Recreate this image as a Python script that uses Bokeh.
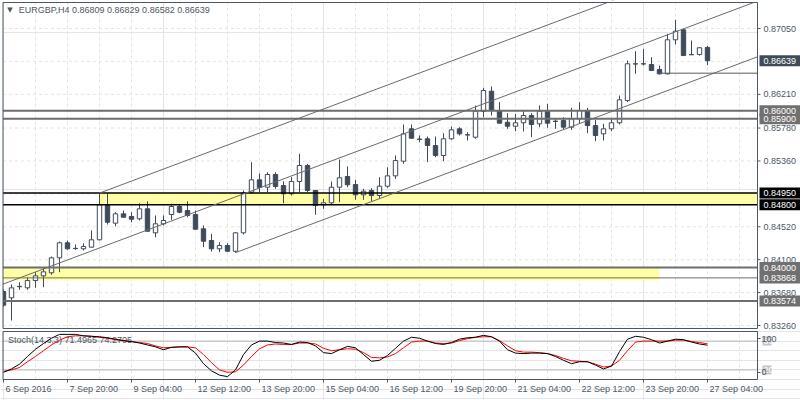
from bokeh.plotting import figure
from bokeh.layouts import column
from bokeh.models import Range1d, ColumnDataSource
from bokeh.core.properties import value
from bokeh.embed import file_html
from bokeh.resources import INLINE

# ---------------- data ----------------
title_text = "EURGBP,H4  0.86809 0.86829 0.86582 0.86639"
stoch_title = "Stoch(14,3,3) 71.4965 74.2705"

opens = [0.83694, 0.83614, 0.83755, 0.83741, 0.83834, 0.83894, 0.83933, 0.84124, 0.84316, 0.84245,
         0.84239, 0.84260, 0.84354, 0.84800, 0.84566, 0.84685, 0.84651, 0.84622, 0.84749, 0.84443,
         0.84558, 0.84677, 0.84779, 0.84728, 0.84677, 0.84494, 0.84345, 0.84239, 0.84281, 0.84208,
         0.84443, 0.84962, 0.85119, 0.85025, 0.85187, 0.85047, 0.84941, 0.85098, 0.85302, 0.84983,
         0.84800, 0.84826, 0.85025, 0.85162, 0.85059, 0.84928, 0.84983, 0.84919, 0.85038, 0.85170,
         0.85357, 0.85770, 0.85640, 0.85643, 0.85557, 0.85430, 0.85643, 0.85770, 0.85694, 0.85663,
         0.85991, 0.86250, 0.86004, 0.85854, 0.85803, 0.85847, 0.85940, 0.85834, 0.85995, 0.85867,
         0.85876, 0.85791, 0.85898, 0.86004, 0.85812, 0.85706, 0.85770, 0.85847, 0.86131, 0.86597,
         0.86600, 0.86591, 0.86527, 0.86472, 0.86906, 0.87033, 0.86715, 0.86718, 0.86809]
highs = [0.83720, 0.83784, 0.83812, 0.83876, 0.83940, 0.83996, 0.84141, 0.84332, 0.84345, 0.84294,
         0.84310, 0.84472, 0.84945, 0.84945, 0.84706, 0.84728, 0.84706, 0.84821, 0.84846, 0.84664,
         0.84664, 0.84813, 0.84804, 0.84846, 0.84728, 0.84536, 0.84430, 0.84323, 0.84310, 0.84451,
         0.84983, 0.85344, 0.85200, 0.85216, 0.85216, 0.85101, 0.85153, 0.85451, 0.85324, 0.84990,
         0.84877, 0.85098, 0.85378, 0.85289, 0.85119, 0.85005, 0.85012, 0.85153, 0.85280, 0.85430,
         0.85825, 0.85825, 0.85685, 0.85672, 0.85672, 0.85714, 0.85800, 0.85791, 0.85727, 0.86068,
         0.86293, 0.86310, 0.86110, 0.85969, 0.85962, 0.85995, 0.85969, 0.86068, 0.86089, 0.85898,
         0.85918, 0.86038, 0.86110, 0.86038, 0.85885, 0.85834, 0.85898, 0.86195, 0.86642, 0.86760,
         0.86791, 0.86684, 0.86578, 0.86982, 0.87161, 0.87046, 0.86897, 0.86811, 0.86829]
lows = [0.83500, 0.83324, 0.83716, 0.83716, 0.83741, 0.83749, 0.83907, 0.83940, 0.84226, 0.84226,
        0.84217, 0.84255, 0.84345, 0.84549, 0.84524, 0.84634, 0.84578, 0.84600, 0.84460, 0.84387,
        0.84536, 0.84609, 0.84693, 0.84642, 0.84485, 0.84260, 0.84204, 0.84196, 0.84196, 0.84188,
        0.84421, 0.84941, 0.84962, 0.84962, 0.85005, 0.84821, 0.84919, 0.84962, 0.84962, 0.84673,
        0.84749, 0.84800, 0.84834, 0.85025, 0.84864, 0.84864, 0.84846, 0.84877, 0.85017, 0.85132,
        0.85324, 0.85643, 0.85599, 0.85344, 0.85408, 0.85357, 0.85630, 0.85685, 0.85621, 0.85643,
        0.85918, 0.85940, 0.85840, 0.85770, 0.85740, 0.85736, 0.85663, 0.85791, 0.85783, 0.85770,
        0.85757, 0.85757, 0.85842, 0.85714, 0.85612, 0.85621, 0.85740, 0.85825, 0.86110, 0.86472,
        0.86578, 0.86510, 0.86463, 0.86463, 0.86846, 0.86700, 0.86712, 0.86705, 0.86582]
closes = [0.83520, 0.83741, 0.83760, 0.83834, 0.83894, 0.83945, 0.84124, 0.84316, 0.84239, 0.84242,
          0.84268, 0.84354, 0.84800, 0.84578, 0.84685, 0.84642, 0.84617, 0.84749, 0.84463, 0.84558,
          0.84600, 0.84779, 0.84706, 0.84664, 0.84489, 0.84336, 0.84239, 0.84281, 0.84208, 0.84443,
          0.84953, 0.85119, 0.85021, 0.85187, 0.85034, 0.84941, 0.85098, 0.85302, 0.84983, 0.84791,
          0.84826, 0.85025, 0.85145, 0.85056, 0.84928, 0.84974, 0.84919, 0.85038, 0.85170, 0.85366,
          0.85706, 0.85650, 0.85634, 0.85557, 0.85430, 0.85643, 0.85757, 0.85706, 0.85692, 0.85995,
          0.86259, 0.86004, 0.85842, 0.85803, 0.85847, 0.85940, 0.85825, 0.85995, 0.85842, 0.85865,
          0.85791, 0.85898, 0.86004, 0.85812, 0.85685, 0.85770, 0.85847, 0.86140, 0.86600, 0.86600,
          0.86598, 0.86514, 0.86472, 0.86906, 0.87016, 0.86705, 0.86718, 0.86804, 0.86639]

stoch_k = [15, 22, 32, 48, 63, 75, 86, 94, 94, 94, 91, 90, 89, 87, 84, 81, 79, 76, 72, 68,
           62, 67, 68, 68, 55, 33, 18, 9, 6, 20, 52, 72, 80, 80, 77, 76, 73, 78, 77, 70,
           56, 54, 62, 69, 66, 52, 38, 40, 50, 65, 80, 88, 86, 80, 75, 73, 77, 84, 87, 88,
           92, 89, 80, 62, 55, 54, 55, 55, 54, 48, 40, 33, 37, 37, 30, 22, 28, 58, 84, 90,
           88, 83, 76, 80, 84, 83, 78, 74, 71.4965]
stoch_d = [17, 20, 25, 37, 48, 60, 72, 82, 89, 91, 91, 90, 88, 86, 83, 81, 79, 77, 75, 70,
           66, 67, 68, 68, 66, 52, 35, 20, 15, 16, 30, 48, 64, 72, 74, 73, 73, 76, 76, 74,
           65, 60, 62, 64, 63, 56, 46, 45, 47, 54, 66, 78, 80, 80, 76, 75, 76, 81, 85, 88,
           89, 89, 81, 70, 60, 57, 57, 56, 54, 50, 44, 39, 38, 37, 32, 26, 28, 40, 60, 78,
           80, 80, 80, 80, 82, 82, 79, 77, 74.2705]

time_ticks = [0, 8, 16, 24, 32, 40, 48, 56, 64, 72, 80, 88]
time_labels = ["6 Sep 2016", "7 Sep 20:00", "9 Sep 04:00", "12 Sep 12:00", "13 Sep 20:00",
               "15 Sep 04:00", "16 Sep 12:00", "19 Sep 20:00", "21 Sep 04:00", "22 Sep 12:00",
               "23 Sep 20:00", "27 Sep 04:00"]
price_ticks = [0.87050, 0.86210, 0.85780, 0.85360, 0.84520, 0.84100, 0.83680, 0.83260]
price_tick_labels = ["0.87050", "0.86210", "0.85780", "0.85360", "0.84520", "0.84100", "0.83680", "0.83260"]
grid_prices = [0.87050, 0.86630, 0.86210, 0.85780, 0.85360, 0.84940, 0.84520, 0.84100, 0.83680, 0.83260]

gray_levels = [0.86000, 0.85900, 0.84000, 0.83574]
thin_levels = [0.83868]
black_levels = [0.84950, 0.84800]
zone_hi_top, zone_hi_bottom, zone_hi_start = 0.84950, 0.84800, 12
zone_lo_top, zone_lo_bottom, zone_lo_end = 0.84000, 0.83835, 82
ray_price, ray_start = 0.86480, 82

channel_start_bar = [12, -1, 29]
channel_start_price = [0.84950, 0.83752, 0.84190]
channel_slope = 0.000383  # price change per bar

box_texts = ["0.86000", "0.85900", "0.84950", "0.84800", "0.84000", "0.83868", "0.83574", "0.86639"]
box_prices = [0.86000, 0.85900, 0.84950, 0.84800, 0.84000, 0.83868, 0.83574, 0.86639]
box_colors = ["#707070", "#707070", "#000000", "#000000", "#707070", "#707070", "#707070", "#3f4b5b"]

stoch_levels = [80, 20]
stoch_level_labels = ["80", "20"]
stoch_scale_labels = ["100", "0"]
stoch_scale_pos = [85.4, 14.6]

# ---------------- layout constants ----------------
DARK = "#3f4b5b"
FRAME = "#4b5766"
TXT = "#4b5766"
GRID = "#e4e4e4"
FONT = "Liberation Sans"
FS = "9px"
PXB = 0.125                 # bars per pixel
X_LEFT = -0.0625            # pane left edge
X_END = 94.25               # pane right edge (price scale line)
X_CANVAS = (-0.375, 99.625)
PY = 0.00012761             # price per pixel
Y_TOP, Y_BOT = 0.87382, 0.83222
PS = 100.0 / 48             # stochastic units per pixel


def txt(fig, xs, ys, texts, color=TXT, align="left", font=FONT, size=FS):
    fig.text(x=xs, y=ys, text=texts, text_font=value(font), text_font_size=value(size),
             text_color=color, text_align=align, text_baseline="middle")


# ---------------- main price pane ----------------
p = figure(width=800, height=330, x_range=Range1d(*X_CANVAS),
           y_range=Range1d(Y_BOT - 2 * PY, Y_TOP + 2 * PY),
           output_backend="svg", toolbar_location=None,
           min_border_left=0, min_border_right=0, min_border_top=0, min_border_bottom=0,
           x_axis_location=None, y_axis_location=None)
p.outline_line_color = None
p.background_fill_color = "white"
p.border_fill_color = "white"

vgrid = list(range(0, 96, 4))
p.segment(x0=[X_LEFT] * len(grid_prices), y0=grid_prices, x1=[X_END] * len(grid_prices), y1=grid_prices,
          line_color=GRID, line_width=1, line_dash="3 3")
p.segment(x0=vgrid, y0=[Y_BOT] * len(vgrid), x1=vgrid, y1=[Y_TOP] * len(vgrid),
          line_color=GRID, line_width=1, line_dash="3 3")

# zones
p.quad(left=[zone_hi_start, X_LEFT], right=[X_END, zone_lo_end],
       top=[zone_hi_top, zone_lo_top], bottom=[zone_hi_bottom, zone_lo_bottom],
       fill_color="#ffffa6", line_color=None)

# candles
n = len(opens)
idx = list(range(n))
src = ColumnDataSource(dict(
    x=idx,
    top=[max(o, c) for o, c in zip(opens, closes)],
    bottom=[min(o, c) for o, c in zip(opens, closes)],
    high=highs, low=lows,
    fill=["white" if c >= o else DARK for o, c in zip(opens, closes)],
))
p.segment(x0="x", y0="low", x1="x", y1="high", source=src, line_color=DARK, line_width=1)
p.vbar(x="x", width=0.55, top="top", bottom="bottom", fill_color="fill", line_color=DARK,
       line_width=1, source=src)

# horizontal levels
def hlines(levels, color, width):
    p.segment(x0=[X_LEFT] * len(levels), y0=levels, x1=[X_END] * len(levels), y1=levels,
              line_color=color, line_width=width)

hlines(gray_levels, "#6e6e6e", 2)
hlines(thin_levels, "#6e6e6e", 1)
hlines(black_levels, "#000000", 1.5)

# channel and ray
ch_end_price = [sp + channel_slope * (X_END - sb) for sb, sp in zip(channel_start_bar, channel_start_price)]
p.segment(x0=channel_start_bar, y0=channel_start_price, x1=[X_END] * 3, y1=ch_end_price,
          line_color="#6a6a6a", line_width=1)
p.segment(x0=[ray_start], y0=[ray_price], x1=[X_END], y1=[ray_price], line_color="#5a5a5a", line_width=1)

# white margins outside the pane
p.quad(left=[X_CANVAS[0], X_LEFT, X_LEFT], right=[X_LEFT, X_CANVAS[1], X_CANVAS[1]],
       top=[Y_TOP + 3 * PY, Y_TOP + 3 * PY, Y_BOT],
       bottom=[Y_BOT - 3 * PY, Y_TOP, Y_BOT - 3 * PY],
       fill_color="white", line_color=None)
p.quad(left=[X_END], right=[X_CANVAS[1]], top=[Y_TOP + 3 * PY], bottom=[Y_BOT - 3 * PY],
       fill_color="white", line_color=None)

# pane border
p.quad(left=[X_LEFT], right=[X_END], top=[Y_TOP], bottom=[Y_BOT], fill_color=None,
       line_color=FRAME, line_width=1)

# price scale: ticks and labels
p.segment(x0=[X_END] * len(price_ticks), y0=price_ticks, x1=[X_END + 3 * PXB] * len(price_ticks),
          y1=price_ticks, line_color=FRAME, line_width=1)
txt(p, [X_END + 6 * PXB] * len(price_ticks), price_ticks, price_tick_labels)

# boxed level labels
p.quad(left=[X_END + 2 * PXB] * len(box_prices), right=[X_CANVAS[1]] * len(box_prices),
       top=[b + 5.5 * PY for b in box_prices], bottom=[b - 5.5 * PY for b in box_prices],
       fill_color=box_colors, line_color=None)
txt(p, [X_END + 6 * PXB] * len(box_prices), box_prices, box_texts, color="white")

# title
txt(p, [0.8], [0.87285], ["▼"], font="DejaVu Sans", size="7px", align="center")
txt(p, [1.9], [0.87285], [title_text])

# ---------------- stochastic pane ----------------
p2 = figure(width=800, height=70, x_range=p.x_range, y_range=Range1d(-21 * PS, 100 + 1 * PS),
            output_backend="svg", toolbar_location=None,
            min_border_left=0, min_border_right=0, min_border_top=0, min_border_bottom=0,
            x_axis_location=None, y_axis_location=None)
p2.outline_line_color = None
p2.background_fill_color = "white"
p2.border_fill_color = "white"

p2.segment(x0=vgrid, y0=[0] * len(vgrid), x1=vgrid, y1=[100] * len(vgrid),
           line_color=GRID, line_width=1, line_dash="3 3")
p2.segment(x0=[X_LEFT] * 2, y0=stoch_levels, x1=[X_END] * 2, y1=stoch_levels,
           line_color="#b8b8b8", line_width=1)

txt(p2, [0.55], [82.3], [stoch_title])

p2.line(idx, stoch_d, line_color="#ff0000", line_width=1)
p2.line(idx, stoch_k, line_color="#000000", line_width=1)

p2.quad(left=[X_LEFT], right=[X_END], top=[100], bottom=[0], fill_color=None,
        line_color=FRAME, line_width=1)

# scale labels
p2.quad(left=[X_END + 5 * PXB] * 2, right=[X_END + 14 * PXB] * 2,
        top=[s + 4.5 * PS for s in stoch_levels], bottom=[s - 4.5 * PS for s in stoch_levels],
        fill_color="#c4c4c4", line_color=None)
txt(p2, [X_END + 6 * PXB] * 2, stoch_levels, stoch_level_labels, color="white")
p2.segment(x0=[X_END] * 2, y0=stoch_scale_pos, x1=[X_END + 3 * PXB] * 2, y1=stoch_scale_pos,
           line_color=FRAME, line_width=1)
txt(p2, [X_END + 4 * PXB] * 2, stoch_scale_pos, stoch_scale_labels)

# time axis
p2.segment(x0=time_ticks, y0=[0] * len(time_ticks), x1=time_ticks, y1=[-3 * PS] * len(time_ticks),
           line_color=FRAME, line_width=1)
txt(p2, [t + 2 * PXB for t in time_ticks], [-18.75] * len(time_ticks), time_labels)

layout = column(p, p2, spacing=0)
open("out.html", "w").write(file_html(layout, INLINE))
